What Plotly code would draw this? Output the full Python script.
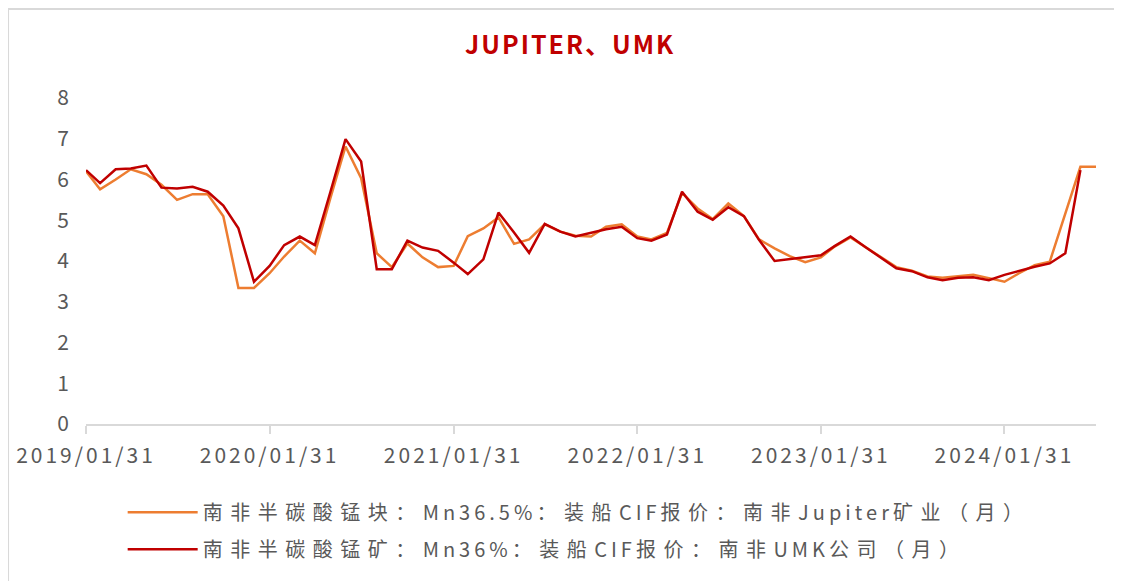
import pandas as pd
import plotly.graph_objects as go

# ===== 数据 =====
dates = pd.date_range("2019-01-31", periods=67, freq="ME")

jupiter = [6.20, 5.76, 6.00, 6.25, 6.13, 5.87, 5.50, 5.64, 5.64, 5.10,
           3.34, 3.34, 3.70, 4.11, 4.50, 4.19, 5.55, 6.81, 6.03, 4.19,
           3.85, 4.43, 4.09, 3.85, 3.88, 4.61, 4.80, 5.07, 4.42, 4.53,
           4.90, 4.72, 4.62, 4.60, 4.84, 4.90, 4.60, 4.53, 4.69, 5.67,
           5.29, 5.03, 5.41, 5.10, 4.53, 4.31, 4.12, 3.97, 4.09, 4.36,
           4.58, 4.34, 4.09, 3.85, 3.76, 3.62, 3.59, 3.63, 3.66, 3.58,
           3.49, 3.70, 3.90, 3.98, 5.15, 6.31, 6.31]

umk = [6.23, 5.91, 6.25, 6.27, 6.34, 5.80, 5.78, 5.82, 5.70, 5.36,
       4.80, 3.49, 3.88, 4.39, 4.60, 4.39, 5.70, 6.99, 6.44, 3.80,
       3.80, 4.50, 4.33, 4.25, 3.96, 3.68, 4.04, 5.19, 4.70, 4.20,
       4.91, 4.72, 4.60, 4.70, 4.78, 4.84, 4.56, 4.50, 4.65, 5.70,
       5.21, 5.01, 5.32, 5.10, 4.52, 4.00, 4.04, 4.09, 4.14, 4.37,
       4.60, 4.34, 4.07, 3.82, 3.75, 3.60, 3.53, 3.59, 3.60, 3.53,
       3.66, 3.76, 3.86, 3.94, 4.19, 6.23]

tick_dates = ["2019-01-31", "2020-01-31", "2021-01-31",
              "2022-01-31", "2023-01-31", "2024-01-31"]
tick_text = ["2019/01/31", "2020/01/31", "2021/01/31",
             "2022/01/31", "2023/01/31", "2024/01/31"]

name_j = "南非半碳酸锰块：Mn36.5%：装船CIF报价：南非Jupiter矿业（月）"
name_u = "南非半碳酸锰矿：Mn36%：装船CIF报价：南非UMK公司（月）"
title_text = "JUPITER、UMK"

FONT = "Noto Sans CJK SC"
GREY = "#595959"


def spaced(s, cjk=7, latin=4):
    # 原图字距较宽: 中文和西文分别加字距
    out, run, run_cjk = [], "", None
    for ch in s:
        is_cjk = ord(ch) > 0x2E80
        if run and is_cjk != run_cjk:
            out.append((run, run_cjk))
            run = ""
        run += ch
        run_cjk = is_cjk
    if run:
        out.append((run, run_cjk))
    return "".join('<span style="letter-spacing:%spx">%s</span>'
                   % (cjk if c else latin, t) for t, c in out)


fig = go.Figure()
fig.add_trace(go.Scatter(
    x=dates, y=jupiter, mode="lines", name=spaced(name_j, 7.5, 4), legendgroup="a",
    line=dict(color="#ED7D31", width=2.5)
))
fig.add_trace(go.Scatter(
    x=dates[:len(umk)], y=umk, mode="lines", name=spaced(name_u, 7.5, 4), legendgroup="b",
    line=dict(color="#C00000", width=2.5)
))

# 外框
fig.add_shape(type="rect", xref="paper", yref="paper",
              x0=-0.0772, x1=1.2, y0=-0.6, y1=1.273,
              line=dict(color="#D9D9D9", width=2), layer="below")

fig.update_layout(
    width=1122, height=581,
    margin=dict(l=78, r=34, t=90, b=165, autoexpand=False),
    paper_bgcolor="white", plot_bgcolor="white",
    font=dict(family=FONT, size=20, color=GREY),
    title=dict(text="<b>" + spaced(title_text, 2, 2) + "</b>",
               xref="container", yref="container",
               x=0.501, y=0.936, xanchor="center", yanchor="middle",
               font=dict(family=FONT, size=25, color="#C00000")),
    xaxis=dict(type="date", range=["2019-01-31", "2024-07-31"],
               tickvals=tick_dates,
               ticktext=[spaced(t, 3, 3) for t in tick_text], tickangle=0,
               showgrid=False, zeroline=False,
               showline=True, linecolor="#D9D9D9", linewidth=2,
               ticks="outside", ticklen=8, tickwidth=2, tickcolor="#D9D9D9",
               ticklabelstandoff=4,
               tickfont=dict(family=FONT, size=21, color=GREY)),
    yaxis=dict(range=[0, 8], dtick=1, showgrid=False, zeroline=False,
               showline=False, ticks="", ticklabelstandoff=16,
               tickfont=dict(family=FONT, size=21, color=GREY)),
    legend=dict(xref="container", yref="container",
                x=0.1022, y=0.1655, xanchor="left", yanchor="top",
                orientation="v", tracegroupgap=8, itemwidth=70,
                font=dict(family=FONT, size=20, color=GREY),
                bgcolor="rgba(0,0,0,0)"),
    showlegend=True,
)

fig.write_html("out.html")
